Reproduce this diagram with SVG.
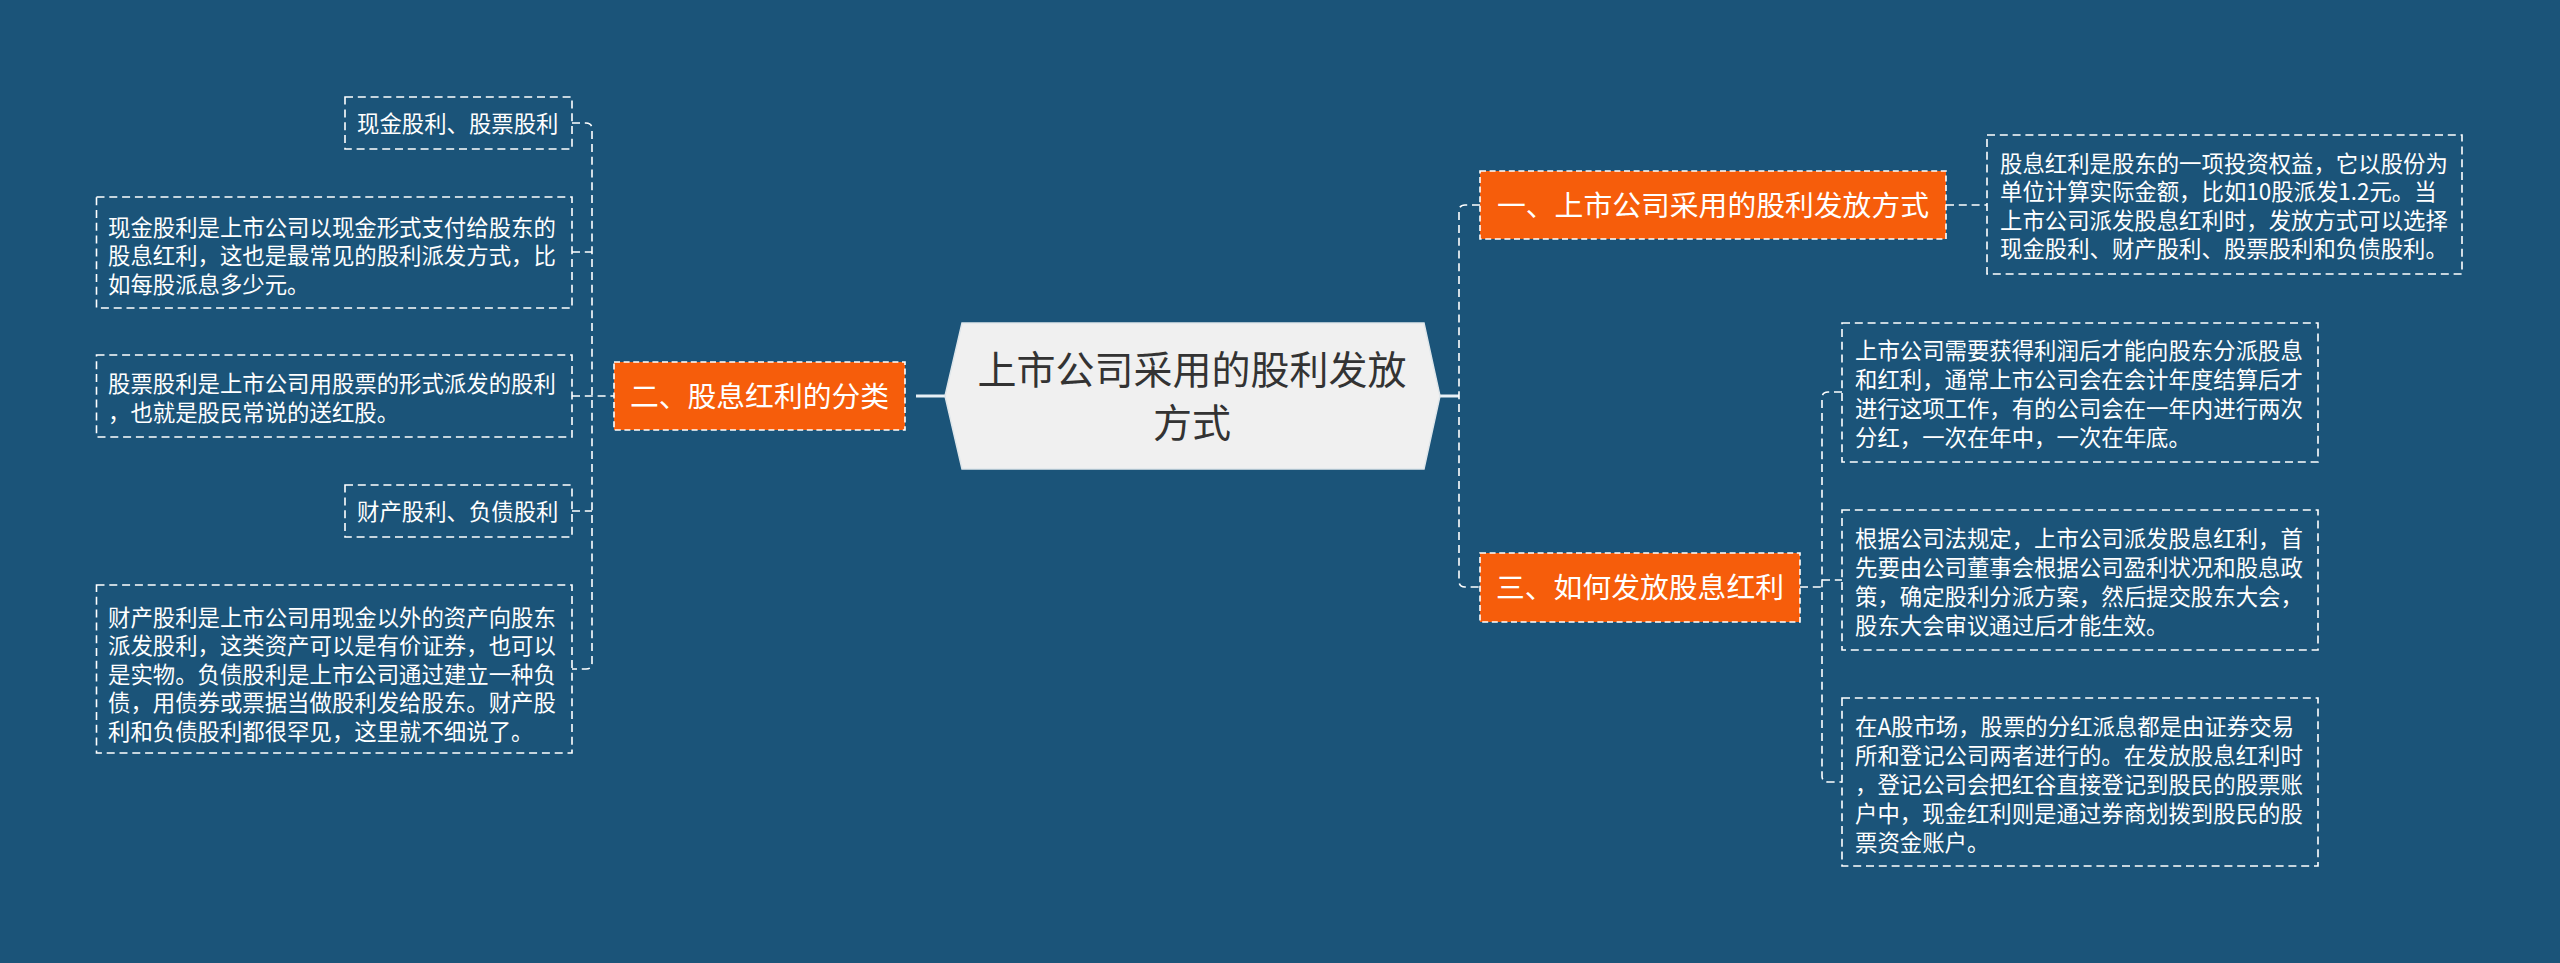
<svg xmlns="http://www.w3.org/2000/svg" width="2560" height="963" viewBox="0 0 2560 963">
<style>
  .bg { fill: #1b5479; }
  .box { fill: none; stroke: #ffffff; stroke-width: 1.6; stroke-dasharray: 8 4.8; }
  .onode { fill: #f65d0b; stroke: #ffffff; stroke-width: 1.6; stroke-dasharray: 6 3.6; }
  .conn { fill: none; stroke: #ffffff; stroke-width: 1.6; stroke-dasharray: 8 4.8; }
  .solid { fill: none; stroke: #e8f0f6; stroke-width: 3; }
  .t { font-family: "Noto Sans CJK SC", "Noto Sans", sans-serif; font-size: 22.4px; fill: #ffffff; }
  .ot { font-family: "Noto Sans CJK SC", "Noto Sans", sans-serif; font-size: 28.8px; fill: #ffffff; text-anchor: middle; }
  .ct { font-family: "Noto Sans CJK SC", "Noto Sans", sans-serif; font-size: 39px; fill: #333333; text-anchor: middle; }
</style>
<rect class="bg" x="0" y="0" width="2560" height="963"/>

<g id="connectors">
  <path class="solid" d="M916,396 H946"/>
  <path class="solid" d="M1439,396 H1459"/>
  <path class="conn" d="M572,123 H586 Q592,123 592,129 V663 Q592,669 586,669 H572"/>
  <path class="conn" d="M572,252 H592"/>
  <path class="conn" d="M572,396 H614"/>
  <path class="conn" d="M572,511 H592"/>
  <path class="conn" d="M1480,205 H1465 Q1459,205 1459,211 V581 Q1459,587 1465,587 H1480"/>
  <path class="conn" d="M1946,205 H1987"/>
  <path class="conn" d="M1800,587 H1822"/>
  <path class="conn" d="M1842,392 H1828 Q1822,392 1822,398 V776 Q1822,782 1828,782 H1842"/>
  <path class="conn" d="M1822,580 H1842"/>
</g>

<g id="center">
  <polygon points="945,396 962,323 1424,323 1440,396 1424,469 962,469" fill="#f0f0f0" stroke="#dfe6ea" stroke-width="1.5"/>
  <text class="ct" x="1192" y="384">上市公司采用的股利发放</text>
  <text class="ct" x="1192" y="437">方式</text>
</g>

<g id="n2">
  <rect class="onode" x="614" y="362" width="291" height="68"/>
  <text class="ot" x="759.5" y="407">二、股息红利的分类</text>
</g>

<g id="n1">
  <rect class="onode" x="1480" y="171" width="466" height="68"/>
  <text class="ot" x="1713" y="216">一、上市公司采用的股利发放方式</text>
</g>

<g id="n3">
  <rect class="onode" x="1480" y="553" width="320" height="69"/>
  <text class="ot" x="1640" y="598">三、如何发放股息红利</text>
</g>

<g id="l1">
  <rect class="box" x="345" y="97" width="227" height="52"/>
  <text class="t" x="357" y="131.5">现金股利、股票股利</text>
</g>

<g id="l2">
  <rect class="box" x="96.5" y="197" width="475.5" height="111"/>
  <text class="t" x="108" y="235.5">现金股利是上市公司以现金形式支付给股东的</text>
  <text class="t" x="108" y="264">股息红利，这也是最常见的股利派发方式，比</text>
  <text class="t" x="108" y="292.5">如每股派息多少元。</text>
</g>

<g id="l3">
  <rect class="box" x="96.5" y="355" width="475.5" height="82"/>
  <text class="t" x="108" y="391.5">股票股利是上市公司用股票的形式派发的股利</text>
  <text class="t" x="108" y="420.5">，也就是股民常说的送红股。</text>
</g>

<g id="l4">
  <rect class="box" x="345" y="485" width="227" height="52"/>
  <text class="t" x="357" y="519.5">财产股利、负债股利</text>
</g>

<g id="l5">
  <rect class="box" x="96.5" y="585" width="475.5" height="168"/>
  <text class="t" x="108" y="625.5">财产股利是上市公司用现金以外的资产向股东</text>
  <text class="t" x="108" y="654">派发股利，这类资产可以是有价证券，也可以</text>
  <text class="t" x="108" y="682.5">是实物。负债股利是上市公司通过建立一种负</text>
  <text class="t" x="108" y="711">债，用债券或票据当做股利发给股东。财产股</text>
  <text class="t" x="108" y="739.5">利和负债股利都很罕见，这里就不细说了。</text>
</g>

<g id="r0">
  <rect class="box" x="1987" y="135" width="475" height="139"/>
  <text class="t" x="2000" y="171.5">股息红利是股东的一项投资权益，它以股份为</text>
  <text class="t" x="2000" y="200">单位计算实际金额，比如10股派发1.2元。当</text>
  <text class="t" x="2000" y="228.5">上市公司派发股息红利时，发放方式可以选择</text>
  <text class="t" x="2000" y="257">现金股利、财产股利、股票股利和负债股利。</text>
</g>

<g id="r1">
  <rect class="box" x="1842" y="323" width="476" height="139"/>
  <text class="t" x="1855" y="358.5">上市公司需要获得利润后才能向股东分派股息</text>
  <text class="t" x="1855" y="387.5">和红利，通常上市公司会在会计年度结算后才</text>
  <text class="t" x="1855" y="416.5">进行这项工作，有的公司会在一年内进行两次</text>
  <text class="t" x="1855" y="445.5">分红，一次在年中，一次在年底。</text>
</g>

<g id="r2">
  <rect class="box" x="1842" y="510" width="476" height="140"/>
  <text class="t" x="1855" y="546.5">根据公司法规定，上市公司派发股息红利，首</text>
  <text class="t" x="1855" y="575.5">先要由公司董事会根据公司盈利状况和股息政</text>
  <text class="t" x="1855" y="604.5">策，确定股利分派方案，然后提交股东大会，</text>
  <text class="t" x="1855" y="633.5">股东大会审议通过后才能生效。</text>
</g>

<g id="r3">
  <rect class="box" x="1842" y="698" width="476" height="168"/>
  <text class="t" x="1855" y="734.5">在A股市场，股票的分红派息都是由证券交易</text>
  <text class="t" x="1855" y="763.5">所和登记公司两者进行的。在发放股息红利时</text>
  <text class="t" x="1855" y="792.5">，登记公司会把红谷直接登记到股民的股票账</text>
  <text class="t" x="1855" y="821.5">户中，现金红利则是通过券商划拨到股民的股</text>
  <text class="t" x="1855" y="850.5">票资金账户。</text>
</g>
</svg>
